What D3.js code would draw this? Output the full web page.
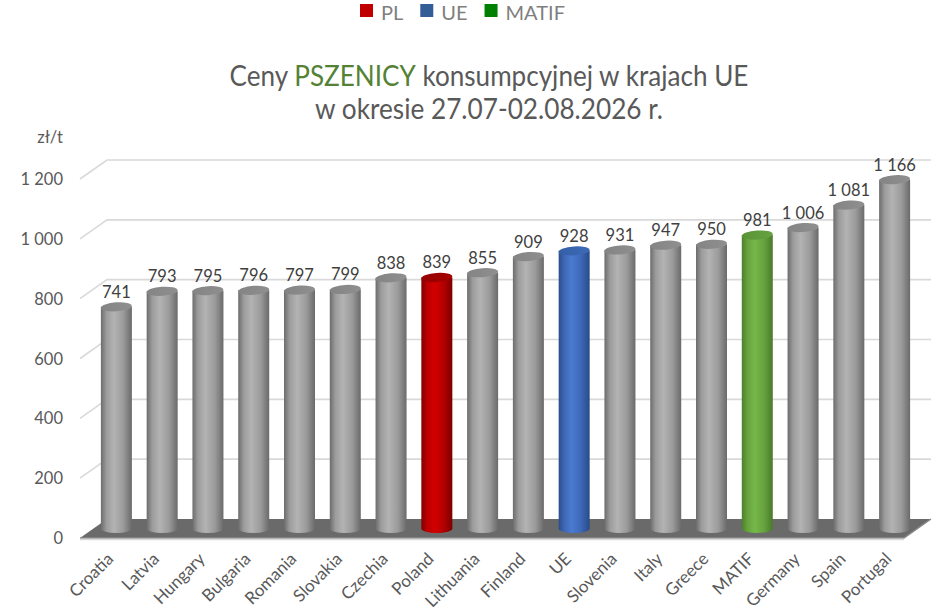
<!DOCTYPE html>
<html><head><meta charset="utf-8">
<script src="https://cdn.jsdelivr.net/npm/d3@7"></script>
<style>html,body{margin:0;padding:0;background:#fff;}svg{display:block;font-family:Lato,"Open Sans",sans-serif;}</style>
</head><body>
<svg id="c" width="946" height="613"></svg>
<script>
const categories = ["Croatia","Latvia","Hungary","Bulgaria","Romania","Slovakia","Czechia","Poland","Lithuania","Finland","UE","Slovenia","Italy","Greece","MATIF","Germany","Spain","Portugal"];
const values = [741,793,795,796,797,799,838,839,855,909,928,931,947,950,981,1006,1081,1166];
const highlight = {"Poland":"red","UE":"blue","MATIF":"green"};
const yTicks = [0,200,400,600,800,1000,1200];
const legendLabels = ["PL","UE","MATIF"];
const legendColors = ["#c00000","#335d96","#008000"];
const titleLine1 = ["Ceny ","PSZENICY"," konsumpcyjnej w krajach UE"];
const titleLine2 = "w okresie 27.07-02.08.2026 r.";
const unitLabel = "zł/t";

const svg = d3.select("#c");
const loc = d3.formatLocale({decimal:",", thousands:"\u00a0", grouping:[3], currency:["",""]});
const fmt = loc.format(",d");

const depthX = 27, depthY = -19;
const x = d3.scaleBand().domain(categories).range([80, 904]);
const y = d3.scaleLinear().domain([0, 1200]).range([538, 179]);

// gradients
const defs = svg.append("defs");
function hgrad(id, stops){
  const g = defs.append("linearGradient").attr("id", id).attr("x1","0%").attr("x2","100%").attr("y1","0%").attr("y2","0%");
  stops.forEach(s => g.append("stop").attr("offset", s[0]).attr("stop-color", s[1]));
}
const palettes = {
  grey:  {body:[["0%","#6c6c6c"],["18%","#9c9c9c"],["42%","#b3b3b3"],["72%","#9b9b9b"],["100%","#6a6a6a"]], top:[["0%","#848484"],["100%","#8f8f8f"]]},
  red:   {body:[["0%","#800000"],["18%","#b80000"],["42%","#d40000"],["72%","#b50000"],["100%","#7a0000"]], top:[["0%","#950000"],["100%","#a60000"]]},
  blue:  {body:[["0%","#2a4d8a"],["18%","#3e68b5"],["42%","#4a7bd0"],["72%","#3e68b8"],["100%","#284a86"]], top:[["0%","#3560a8"],["100%","#3d6ab7"]]},
  green: {body:[["0%","#4c7f2c"],["18%","#66a23e"],["42%","#76b84a"],["72%","#66a23e"],["100%","#497a2a"]], top:[["0%","#5a9337"],["100%","#66a240"]]}
};
Object.keys(palettes).forEach(k => { hgrad("b-"+k, palettes[k].body); hgrad("t-"+k, palettes[k].top); });

// gridlines (back wall + left side)
const grid = svg.append("g");
yTicks.filter(t => t > 0).forEach(t => {
  const yy = y(t);
  grid.append("path")
    .attr("d", `M${x.range()[0]},${yy} L${x.range()[0]+depthX},${yy+depthY} L${x.range()[1]+depthX},${yy+depthY}`)
    .attr("fill","none").attr("stroke","#d9d9d9").attr("stroke-width",1.6);
});

// floor
const x0 = x.range()[0], x1 = x.range()[1], y0 = y(0);
svg.append("path")
  .attr("d", `M${x0},${y0} L${x1},${y0} L${x1+depthX},${y0+depthY} L${x0+depthX},${y0+depthY} Z`)
  .attr("fill","#6a6a6a");
svg.append("path")
  .attr("d", `M${x0},${y0} L${x1},${y0} L${x1+depthX},${y0+depthY}`)
  .attr("fill","none").attr("stroke","#8a8a8a").attr("stroke-width",1.5);
svg.append("line").attr("x1",x0).attr("x2",x1).attr("y1",y0+1.5).attr("y2",y0+1.5)
  .attr("stroke","#d9d9d9").attr("stroke-width",1.5);

// y axis labels
svg.append("g").selectAll("text").data(yTicks).join("text")
  .attr("x", 63).attr("y", d => y(d) + 6)
  .attr("text-anchor","end").attr("font-size",16.5).attr("fill","#595959")
  .text(d => fmt(d));
svg.append("text").attr("x",63).attr("y",143).attr("text-anchor","end")
  .attr("font-size",16.5).attr("fill","#595959").text(unitLabel);

// cylinders
const rx = 15.5, ry = 4.5;
const bars = svg.append("g").selectAll("g").data(categories.map((c,i)=>({c, v:values[i]}))).join("g");
bars.each(function(d){
  const g = d3.select(this);
  const key = highlight[d.c] || "grey";
  const cx = x(d.c) + x.bandwidth()/2 + depthX/2;
  const top = y(d.v) + depthY/2;
  const bot = y(0) + depthY/2;
  g.append("path")
    .attr("d", `M${cx-rx},${top} L${cx-rx},${bot} A${rx},${ry} 0 0 0 ${cx+rx},${bot} L${cx+rx},${top} Z`)
    .attr("fill", `url(#b-${key})`);
  g.append("ellipse").attr("cx",cx).attr("cy",top).attr("rx",rx).attr("ry",ry)
    .attr("transform",`rotate(-4,${cx},${top})`)
    .attr("fill", `url(#t-${key})`);
  g.append("text").attr("x",cx).attr("y",top-9).attr("text-anchor","middle")
    .attr("font-size",16.5).attr("fill","#404040").text(fmt(d.v));
});

// x labels
svg.append("g").selectAll("text").data(categories).join("text")
  .attr("transform", d => `translate(${x(d)+x.bandwidth()/2+depthX/2-2},560) rotate(-45)`)
  .attr("text-anchor","end").attr("font-size",17).attr("fill","#595959")
  .text(d => d);

// title
function fitText(sel, target){
  const w = sel.node().getBBox().width;
  const cx = +sel.attr("data-cx"), by = +sel.attr("data-y");
  sel.attr("x",0).attr("y",0).attr("transform",`translate(${cx},${by}) scale(${target/w},1)`);
}
const t1 = svg.append("text").attr("text-anchor","middle").attr("font-size",28.5).attr("fill","#595959")
  .attr("data-cx",489).attr("data-y",86);
titleLine1.forEach((s,i)=> t1.append("tspan").attr("fill", i===1 ? "#548235" : "#595959").text(s));
fitText(t1, 518);
const t2 = svg.append("text").attr("text-anchor","middle").attr("font-size",28.5).attr("fill","#595959")
  .attr("data-cx",489).attr("data-y",119).text(titleLine2);
fitText(t2, 348);

// legend
const lg = svg.append("g");
let lx = 360;
legendLabels.forEach((lab,i)=>{
  lg.append("rect").attr("x",lx).attr("y",4).attr("width",13).attr("height",13).attr("fill",legendColors[i]);
  const tx = lg.append("text").attr("x",lx+21).attr("y",20).attr("font-size",20).attr("fill","#7f7f7f").text(lab);
  const w = tx.node().getComputedTextLength();
  lx = lx + 21 + w + 17;
});
</script>
</body></html>
